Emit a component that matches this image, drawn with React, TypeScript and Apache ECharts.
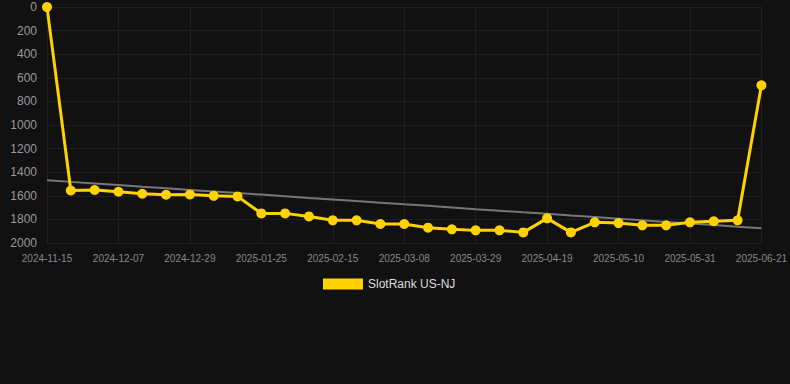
import React, { useEffect, useRef } from "react";
import * as echarts from "echarts";

const categories: string[] = [
  "2024-11-15", "2024-11-22", "2024-11-30", "2024-12-07", "2024-12-14", "2024-12-21",
  "2024-12-29", "2025-01-05", "2025-01-12", "2025-01-25", "2025-02-01", "2025-02-08",
  "2025-02-15", "2025-02-22", "2025-03-01", "2025-03-08", "2025-03-15", "2025-03-22",
  "2025-03-29", "2025-04-05", "2025-04-12", "2025-04-19", "2025-04-26", "2025-05-03",
  "2025-05-10", "2025-05-17", "2025-05-24", "2025-05-31", "2025-06-07", "2025-06-14",
  "2025-06-21",
];

const rankValues: number[] = [
  1, 1555, 1551, 1566, 1583, 1591, 1589, 1600, 1605, 1749, 1749, 1775, 1808, 1808,
  1839, 1839, 1870, 1884, 1893, 1893, 1910, 1791, 1910, 1825, 1831, 1850, 1850,
  1825, 1816, 1808, 664,
];

const seriesName = "SlotRank US-NJ";

function trendLine(vals: number[]): number[] {
  const n = vals.length;
  let sx = 0, sy = 0, sxy = 0, sxx = 0;
  vals.forEach((v, i) => {
    sx += i; sy += v; sxy += i * v; sxx += i * i;
  });
  const slope = (n * sxy - sx * sy) / (n * sxx - sx * sx);
  const intercept = (sy - slope * sx) / n;
  return vals.map((_, i) => Math.round(intercept + slope * i));
}

export default function App() {
  const ref = useRef<HTMLDivElement>(null);
  useEffect(() => {
    if (!ref.current) return;
    const chart = echarts.init(ref.current, null, { renderer: "svg" });
    chart.setOption({
      animation: false,
      backgroundColor: "#111111",
      textStyle: { fontFamily: "Arial, Liberation Sans, sans-serif" },
      grid: { left: 47, right: 28, top: 7, bottom: 141, containLabel: false },
      legend: {
        data: [{ name: seriesName, icon: "rect" }],
        top: 273,
        left: 318,
        itemWidth: 40,
        itemHeight: 11,
        itemGap: 10,
        textStyle: { color: "#dddddd", fontSize: 12 },
      },
      xAxis: {
        type: "category",
        data: categories,
        boundaryGap: false,
        axisLine: { show: false },
        axisTick: { show: false },
        axisLabel: {
          interval: 2,
          color: "#888888",
          fontSize: 10,
          margin: 10,
        },
        splitLine: {
          show: true,
          interval: 2,
          lineStyle: { color: "#1f1f1f", width: 1 },
        },
      },
      yAxis: {
        type: "value",
        inverse: true,
        min: 0,
        max: 2000,
        interval: 200,
        axisLine: { show: false },
        axisTick: { show: false },
        axisLabel: {
          color: "#9a9a9a",
          fontSize: 12,
          margin: 10,
          formatter: (v: number) => String(v),
        },
        splitLine: { show: true, lineStyle: { color: "#1f1f1f", width: 1 } },
      },
      series: [
        {
          name: "trend",
          type: "line",
          data: trendLine(rankValues),
          symbol: "none",
          lineStyle: { color: "#777777", width: 2 },
          itemStyle: { color: "#777777" },
          z: 1,
          silent: true,
        },
        {
          name: seriesName,
          type: "line",
          data: rankValues,
          symbol: "circle",
          symbolSize: 10,
          lineStyle: { color: "#ffd200", width: 3 },
          itemStyle: { color: "#ffd200" },
          z: 2,
        },
      ],
    });
    return () => chart.dispose();
  }, []);
  return (
    <div
      ref={ref}
      style={{ position: "fixed", left: 0, top: 0, width: 790, height: 384 }}
    />
  );
}
